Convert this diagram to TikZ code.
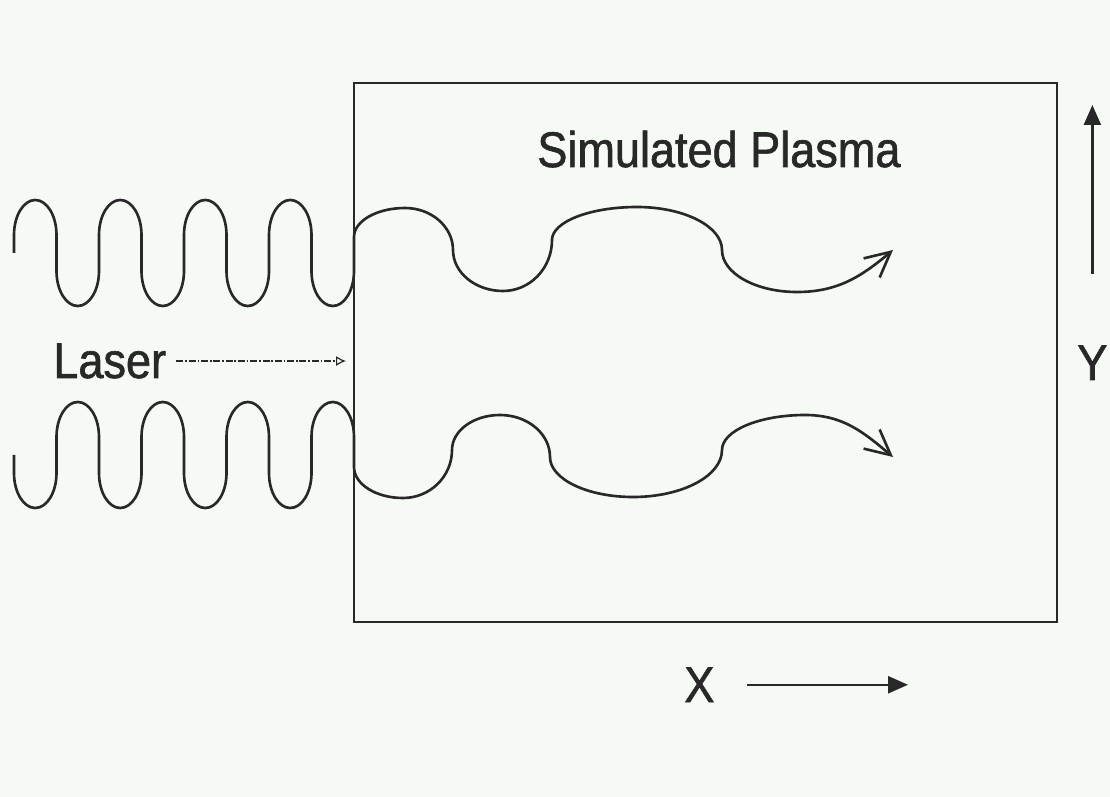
\documentclass[tikz,border=0pt]{standalone}
\usepackage{fontspec}
\setmainfont{Liberation Sans}[FakeStretch=0.9, FakeBold=1.2]
\usetikzlibrary{arrows.meta}
\definecolor{paper}{RGB}{246,250,245}
\definecolor{ink}{RGB}{40,40,40}

\begin{document}
\begin{tikzpicture}[x=0.02cm, y=0.02cm,
  lbl/.style={inner sep=0pt, anchor=base west, text=ink,
              font=\fontsize{28.5}{30}\selectfont},
  box/.style={draw=ink, line width=1.1pt},
  wave/.style={draw=ink, line width=1.5pt, line join=round,
               -{Straight Barb[length=0.5cm, width=0.5cm]}},
  hump/.style={x radius=21.25, y radius=35},
  axisarrow/.style={draw=ink, line width=1.4pt,
                    -{Triangle[length=0.4cm, width=0.34cm]}},
  beam/.style={draw=ink, line width=0.7pt,
               dash pattern=on 4pt off 1pt on 1pt off 1pt,
               -{Latex[open, length=0.2cm, width=0.2cm]}}
]
  \fill[paper] (0,0) rectangle (1110,-797);
  \useasboundingbox (0,0) rectangle (1110,-797);

  \draw[box] (354,-83) rectangle (1057,-622);

  \node[lbl] (laser)  at (53,-378)   {Laser};
  \node[lbl] (plasma) at (537,-167)  {Simulated Plasma};
  \node[lbl] (xlab)   at (684,-702)  {X};
  \node[lbl] (ylab)   at (1077,-380) {Y};

  \coordinate (beamtip) at (346,-355);
  \coordinate (xtip) at (908,-682);
  \coordinate (ytip) at (1090,-105);

  \draw[beam] ([xshift=0.2cm]laser.east) -- (laser.east -| beamtip);
  \draw[axisarrow] ([xshift=0.64cm]xlab.east) -- (xlab.east -| xtip);
  \draw[axisarrow] ([yshift=1.42cm]ylab.north) -- (ylab.north |- ytip);

  \draw[wave] (14,-253)
    \foreach \k in {1,...,4}{
      -- ++(0,18) arc[hump, start angle=180, end angle=0]
      -- ++(0,-36) arc[hump, start angle=180, end angle=360]
      -- ++(0,18)}
    -- (354,-237)
    arc[start angle=180, end angle=90,  x radius=51, y radius=29]
    arc[start angle=90,  end angle=0,   x radius=48, y radius=42]
    arc[start angle=180, end angle=270, x radius=50, y radius=41]
    arc[start angle=270, end angle=360, x radius=49, y radius=51]
    arc[start angle=180, end angle=90,  x radius=85, y radius=33]
    arc[start angle=90,  end angle=0,   x radius=85, y radius=43]
    arc[start angle=180, end angle=270, x radius=75, y radius=42]
    to[out=0, in=220] (893,-250);

  \draw[wave] (14,-455)
    \foreach \k in {1,...,4}{
      -- ++(0,-18) arc[hump, start angle=180, end angle=360]
      -- ++(0,36) arc[hump, start angle=180, end angle=0]
      -- ++(0,-18)}
    -- (354,-467)
    arc[start angle=180, end angle=270, x radius=49, y radius=31]
    arc[start angle=270, end angle=360, x radius=49, y radius=48]
    arc[start angle=180, end angle=90,  x radius=48, y radius=35]
    arc[start angle=90,  end angle=0,   x radius=50, y radius=42]
    arc[start angle=180, end angle=270, x radius=83, y radius=40]
    arc[start angle=270, end angle=360, x radius=89, y radius=47]
    arc[start angle=180, end angle=90,  x radius=83, y radius=35]
    to[out=0, in=140] (893,-457);
\end{tikzpicture}
\end{document}
